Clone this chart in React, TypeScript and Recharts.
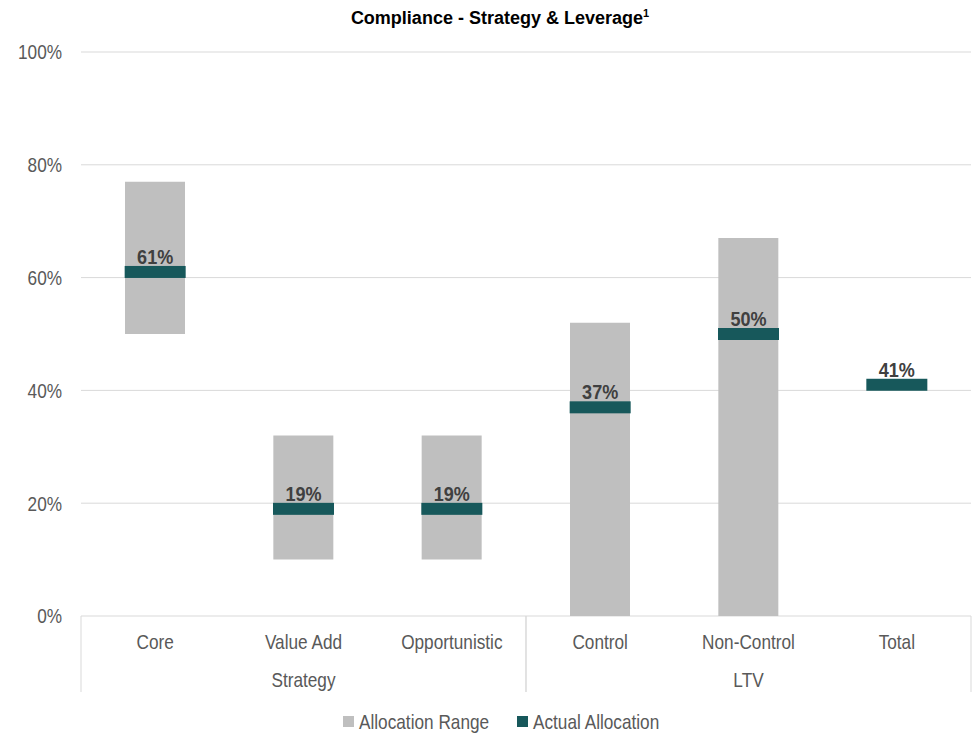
import React from 'react';
import { ComposedChart, Bar, Line, XAxis, YAxis, CartesianGrid } from 'recharts';

const categories = ['Core', 'Value Add', 'Opportunistic', 'Control', 'Non-Control', 'Total'];
const rangeLow = [50, 10, 10, 0, 0, null];
const rangeHigh = [77, 32, 32, 52, 67, null];
const actual = [61, 19, 19, 37, 50, 41];
const groups = [
  { name: 'Strategy', from: 0, to: 2 },
  { name: 'LTV', from: 3, to: 5 },
];
const yTicks = [0, 20, 40, 60, 80, 100];
const legendItems = [
  { label: 'Allocation Range', key: 'range' },
  { label: 'Actual Allocation', key: 'actual' },
];

// no Arial Narrow here, so squeeze Liberation Sans instead
const FONT = "'Liberation Sans', Arial, sans-serif";
const NARROW = 0.82;
const GREY = '#bfbfbf';
const TEAL = '#17585b';
const TICK = '#595959';
const LINE = '#d9d9d9';

const data = categories.map((name, i) => ({
  name,
  base: rangeLow[i],
  span: rangeLow[i] == null || rangeHigh[i] == null ? null : (rangeHigh[i] as number) - (rangeLow[i] as number),
  actual: actual[i],
}));

const PLOT_L = 81;
const PLOT_R = 971;
const BAND = (PLOT_R - PLOT_L) / categories.length;

const NText = ({ x, y, children, anchor = 'middle', size = 21, weight = 'normal', fill = TICK, sx = NARROW, dy }: any) => (
  <text
    transform={`translate(${x},${y}) scale(${sx},1)`}
    textAnchor={anchor}
    fontSize={size}
    fontWeight={weight}
    fill={fill}
    fontFamily={FONT}
    dy={dy}
  >
    {children}
  </text>
);

const CategoryTick = (props: any) => {
  const { x, y, payload, index } = props;
  const group = groups.find((g) => index >= g.from && index <= g.to);
  const mid = group ? (group.from + group.to) / 2 : index;
  return (
    <g>
      <NText x={x} y={y + 33}>{payload.value}</NText>
      {group && index === group.from && (
        <line x1={x - BAND / 2} x2={x - BAND / 2} y1={y} y2={y + 76} stroke={LINE} strokeWidth={1} />
      )}
      {group && index === group.to && (
        <line x1={x + BAND / 2} x2={x + BAND / 2} y1={y} y2={y + 76} stroke={LINE} strokeWidth={1} />
      )}
      {group && index === Math.round(mid) && (
        <NText x={x + (mid - index) * BAND} y={y + 71}>{group.name}</NText>
      )}
    </g>
  );
};

const PercentTick = (props: any) => {
  const { x, y, payload } = props;
  return (
    <NText x={x} y={y} anchor="end" dy="0.355em">{`${payload.value}%`}</NText>
  );
};

const Marker = (props: any) => {
  const { cx, cy, value, index } = props;
  if (value == null || cx == null || cy == null) return <g key={index} />;
  return (
    <g key={index}>
      <rect x={cx - 30.5} y={cy - 6} width={61} height={12} fill={TEAL} />
      <NText x={cx} y={cy - 8} weight="bold" fill="#404040" sx={0.86}>{`${value}%`}</NText>
    </g>
  );
};

export default function App() {
  return (
    <div style={{ position: 'absolute', left: 0, top: 0, width: 978, height: 735, background: '#fff', fontFamily: FONT }}>
      <div
        style={{
          position: 'absolute',
          top: 7,
          left: 0,
          width: 978,
          textAlign: 'center',
          fontSize: 18,
          fontWeight: 'bold',
          color: '#000',
          paddingLeft: 22,
          boxSizing: 'border-box',
        }}
      >
        Compliance - Strategy &amp; Leverage<sup style={{ fontSize: 11 }}>1</sup>
      </div>
      <ComposedChart width={978} height={735} data={data} margin={{ top: 52, right: 978 - PLOT_R, bottom: 43, left: 0 }}>
        <CartesianGrid vertical={false} stroke={LINE} />
        <XAxis
          dataKey="name"
          axisLine={false}
          tickLine={false}
          tickSize={0}
          tickMargin={0}
          height={76}
          interval={0}
          tick={<CategoryTick />}
        />
        <YAxis
          domain={[0, 100]}
          ticks={yTicks}
          width={PLOT_L}
          axisLine={false}
          tickLine={false}
          tickSize={0}
          tickMargin={19}
          tick={<PercentTick />}
        />
        <Bar dataKey="base" stackId="r" fill="transparent" barSize={60} isAnimationActive={false} />
        <Bar dataKey="span" stackId="r" fill={GREY} barSize={60} isAnimationActive={false} />
        <Line dataKey="actual" stroke="none" dot={<Marker />} activeDot={false} isAnimationActive={false} />
      </ComposedChart>
      <svg style={{ position: 'absolute', left: 0, top: 700 }} width={978} height={35}>
        {legendItems.map((item, i) => {
          const x0 = i === 0 ? 343 : 517;
          return (
            <g key={item.key}>
              <rect x={x0} y={16} width={11} height={11} fill={item.key === 'range' ? GREY : TEAL} />
              <NText x={x0 + 16} y={29} anchor="start">{item.label}</NText>
            </g>
          );
        })}
      </svg>
    </div>
  );
}
